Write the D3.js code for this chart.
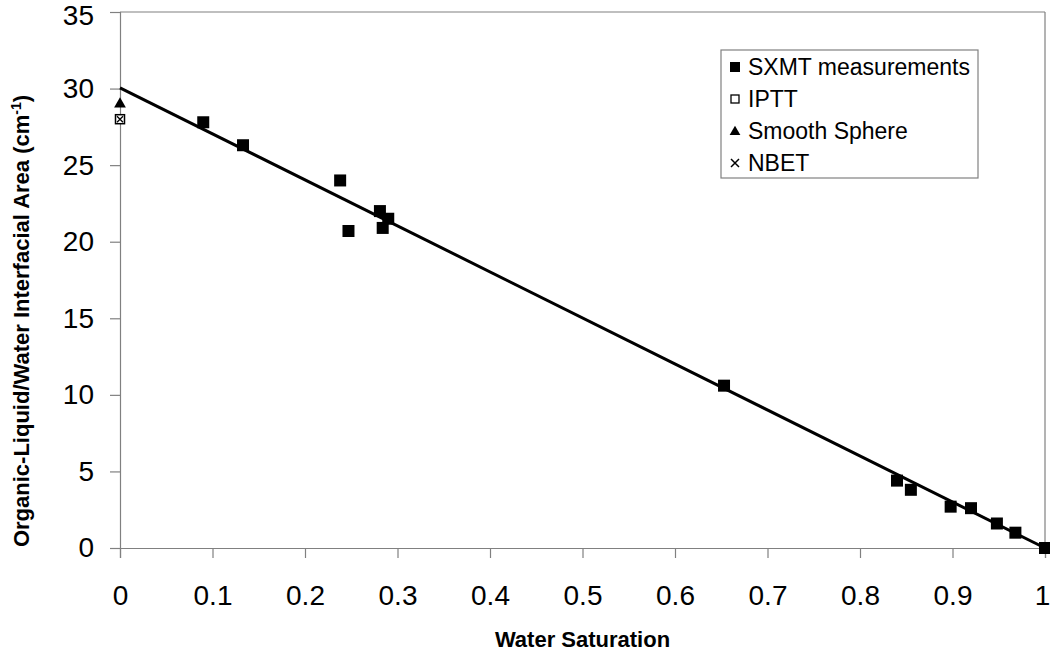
<!DOCTYPE html>
<html>
<head>
<meta charset="utf-8">
<script src="https://cdn.jsdelivr.net/npm/d3@7"></script>
<style>
  html, body { margin: 0; padding: 0; background: #fff; }
  svg { display: block; font-family: "Liberation Sans", Arial, sans-serif; }
</style>
</head>
<body>
<svg id="chart" width="1050" height="654"></svg>
<script>
// ---- data ----
const sxmtX = [0.09, 0.133, 0.238, 0.247, 0.281, 0.284, 0.29, 0.653, 0.84, 0.855, 0.898, 0.92, 0.948, 0.968, 1.0];
const sxmtY = [27.8, 26.3, 24.0, 20.7, 22.0, 20.9, 21.5, 10.6, 4.4, 3.8, 2.7, 2.6, 1.6, 1.0, 0.0];
const ipttX = [0];
const ipttY = [28.0];
const sphereX = [0];
const sphereY = [29.05];
const nbetX = [0];
const nbetY = [28.0];
const fitX = [0, 1];
const fitY = [30.05, 0];
const xTicks = [0, 0.1, 0.2, 0.3, 0.4, 0.5, 0.6, 0.7, 0.8, 0.9, 1];
const yTicks = [0, 5, 10, 15, 20, 25, 30, 35];
const legendLabels = ["SXMT measurements", "IPTT", "Smooth Sphere", "NBET"];

(function () {
// ---- layout ----
const svg = d3.select("#chart");
const pL = 120, pR = 1045, pT = 12, pB = 548;
const x = d3.scaleLinear().domain([0, 1]).range([pL, pR]);
const y = d3.scaleLinear().domain([0, 35]).range([pB, pT]);
const axisColor = "#808080";

// plot border (top, right)
svg.append("line").attr("x1", pL).attr("x2", pR).attr("y1", pT).attr("y2", pT)
  .attr("stroke", axisColor).attr("stroke-width", 1.2);
svg.append("line").attr("x1", pR).attr("x2", pR).attr("y1", pT).attr("y2", pB)
  .attr("stroke", axisColor).attr("stroke-width", 1.2);

// axes
const xAxis = svg.append("g").attr("transform", `translate(0,${pB})`)
  .call(d3.axisBottom(x).tickValues(xTicks).tickSize(10).tickPadding(20)
    .tickFormat(d => String(+d.toFixed(1))));
const yAxis = svg.append("g").attr("transform", `translate(${pL},0)`)
  .call(d3.axisLeft(y).tickValues(yTicks).tickSize(10).tickPadding(16));
[xAxis, yAxis].forEach(g => {
  g.select(".domain").attr("stroke", axisColor).attr("stroke-width", 1.2);
  g.selectAll(".tick line").attr("stroke", axisColor).attr("stroke-width", 1.2);
  g.selectAll(".tick text").attr("fill", "#000").style("font-size", "28px")
    .style("font-family", "'Liberation Sans', Arial, sans-serif");
});
xAxis.selectAll(".tick text").attr("dy", "0.71em").attr("y", 37);
xAxis.selectAll(".tick").filter(d => d === 1).select("text").attr("x", -3);
yAxis.selectAll(".tick text").attr("x", -26);
yAxis.selectAll(".tick").filter(d => d === 35).select("text").attr("dy", "0.45em");

// fit line
const line = d3.line().x(d => x(d[0])).y(d => y(d[1]));
svg.append("path").datum(d3.zip(fitX, fitY)).attr("d", line)
  .attr("fill", "none").attr("stroke", "#000").attr("stroke-width", 3);

// SXMT squares
const sq = 12;
svg.append("g").selectAll("rect").data(d3.zip(sxmtX, sxmtY)).join("rect")
  .attr("x", d => x(d[0]) - sq / 2).attr("y", d => y(d[1]) - sq / 2)
  .attr("width", sq).attr("height", sq).attr("fill", "#000");

// Smooth sphere triangles
const tri = d3.symbol().type(d3.symbolTriangle).size(60);
svg.append("g").selectAll("path").data(d3.zip(sphereX, sphereY)).join("path")
  .attr("transform", d => `translate(${x(d[0])},${y(d[1]) + 1})`)
  .attr("d", tri).attr("fill", "#000");

// IPTT open squares
const osq = 9;
svg.append("g").selectAll("rect").data(d3.zip(ipttX, ipttY)).join("rect")
  .attr("x", d => x(d[0]) - osq / 2).attr("y", d => y(d[1]) - osq / 2)
  .attr("width", osq).attr("height", osq).attr("fill", "#fff")
  .attr("stroke", "#000").attr("stroke-width", 1.5);

// NBET crosses
const cr = 3;
svg.append("g").selectAll("path").data(d3.zip(nbetX, nbetY)).join("path")
  .attr("d", d => {
    const cx = x(d[0]), cy = y(d[1]);
    return `M${cx - cr},${cy - cr}L${cx + cr},${cy + cr}M${cx - cr},${cy + cr}L${cx + cr},${cy - cr}`;
  })
  .attr("stroke", "#000").attr("stroke-width", 1.3);

// axis titles
svg.append("text").attr("x", (pL + pR) / 2).attr("y", 647)
  .attr("text-anchor", "middle").style("font-size", "22px").style("font-weight", "bold")
  .text("Water Saturation");
const yt = svg.append("text").attr("transform", "translate(29,321) rotate(-90)")
  .attr("text-anchor", "middle").style("font-size", "22px").style("font-weight", "bold");
yt.append("tspan").text("Organic-Liquid/Water Interfacial Area (cm");
yt.append("tspan").attr("dy", -8).style("font-size", "14px").text("-1");
yt.append("tspan").attr("dy", 8).text(")");

// legend
const lg = svg.append("g");
lg.append("rect").attr("x", 721).attr("y", 50).attr("width", 257).attr("height", 128)
  .attr("fill", "#fff").attr("stroke", "#808080").attr("stroke-width", 1.2);
const rowY = [67, 99, 131, 163];
const mx = 735;
legendLabels.forEach((t, i) => {
  lg.append("text").attr("x", 748).attr("y", rowY[i]).attr("dy", "0.35em")
    .style("font-size", "23px").text(t);
});
lg.append("rect").attr("x", mx - 5).attr("y", rowY[0] - 5).attr("width", 10).attr("height", 10).attr("fill", "#000");
lg.append("rect").attr("x", mx - 4).attr("y", rowY[1] - 4).attr("width", 8).attr("height", 8)
  .attr("fill", "#fff").attr("stroke", "#000").attr("stroke-width", 1.3);
lg.append("path").attr("transform", `translate(${mx},${rowY[2] + 1})`)
  .attr("d", d3.symbol().type(d3.symbolTriangle).size(50)).attr("fill", "#000");
lg.append("path").attr("d", `M${mx - 4},${rowY[3] - 4}L${mx + 4},${rowY[3] + 4}M${mx - 4},${rowY[3] + 4}L${mx + 4},${rowY[3] - 4}`)
  .attr("stroke", "#000").attr("stroke-width", 1.5);
})();
</script>
</body>
</html>
